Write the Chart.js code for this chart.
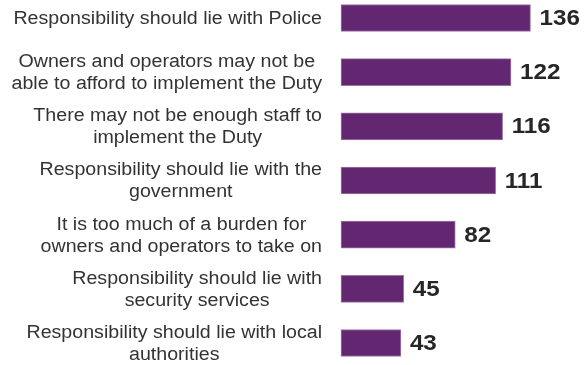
<!DOCTYPE html>
<html>
<head>
<meta charset="utf-8">
<script src="https://cdn.jsdelivr.net/npm/chart.js@4/dist/chart.umd.min.js"></script>
<style>
  html, body { margin: 0; padding: 0; background: #fff; }
  #wrap { width: 587px; height: 365px; position: relative; }
</style>
</head>
<body>
<div id="wrap"><canvas id="chart"></canvas></div>
<script>
// categorias (cada uma dividida em linhas, como no original)
const categories = [
  ['Responsibility should lie with Police'],
  ['Owners and operators may not be', 'able to afford to implement the Duty'],
  ['There may not be enough staff to', 'implement the Duty'],
  ['Responsibility should lie with the', 'government'],
  ['It is too much of a burden for', 'owners and operators to take on'],
  ['Responsibility should lie with', 'security services'],
  ['Responsibility should lie with local', 'authorities']
];
const counts = [136, 122, 116, 111, 82, 45, 43];

const barColor = '#632670';
const textColor = '#333333';
const valueColor = '#262626';

// rótulos à esquerda (centralizados entre si, alinhados à direita como bloco)
// e valores no fim de cada barra
const labelPlugin = {
  id: 'labels',
  afterDatasetsDraw(chart) {
    const ctx = chart.ctx;
    const meta = chart.getDatasetMeta(0);
    const rightEdge = chart.chartArea.left - 19;
    const stretch = 1.09;
    const lineH = 22;

    ctx.save();
    ctx.font = '18px "Liberation Sans", Arial, sans-serif';
    ctx.fillStyle = textColor;
    ctx.textAlign = 'center';
    ctx.textBaseline = 'middle';
    chart.data.labels.forEach((lines, i) => {
      const y = meta.data[i].y;
      const maxW = Math.max(...lines.map(l => ctx.measureText(l).width));
      ctx.save();
      ctx.translate(rightEdge, y);
      ctx.scale(stretch, 1);
      lines.forEach((line, j) => {
        ctx.fillText(line, -maxW / 2, (j - (lines.length - 1) / 2) * lineH + 1);
      });
      ctx.restore();
    });

    ctx.font = 'bold 22px "Liberation Sans", Arial, sans-serif';
    ctx.fillStyle = valueColor;
    ctx.textAlign = 'left';
    meta.data.forEach((bar, i) => {
      ctx.save();
      ctx.translate(bar.x + 9, bar.y + 1);
      ctx.scale(1.1, 1);
      ctx.fillText(String(chart.data.datasets[0].data[i]), 0, 0);
      ctx.restore();
    });
    ctx.restore();
  }
};

new Chart(document.getElementById('chart'), {
  type: 'bar',
  data: {
    labels: categories,
    datasets: [{
      data: counts,
      backgroundColor: barColor,
      borderColor: '#9c78a5',
      borderWidth: 1,
      borderSkipped: false,
      barThickness: 27,
      clip: false
    }]
  },
  options: {
    indexAxis: 'y',
    responsive: true,
    maintainAspectRatio: false,
    animation: false,
    layout: { padding: { left: 341, right: 37, top: 18, bottom: 22 } },
    plugins: {
      legend: { display: false },
      tooltip: { enabled: false }
    },
    scales: {
      x: { display: false, min: 0, max: 150 },
      y: { display: false, offset: false }
    }
  },
  plugins: [labelPlugin]
});
</script>
</body>
</html>
